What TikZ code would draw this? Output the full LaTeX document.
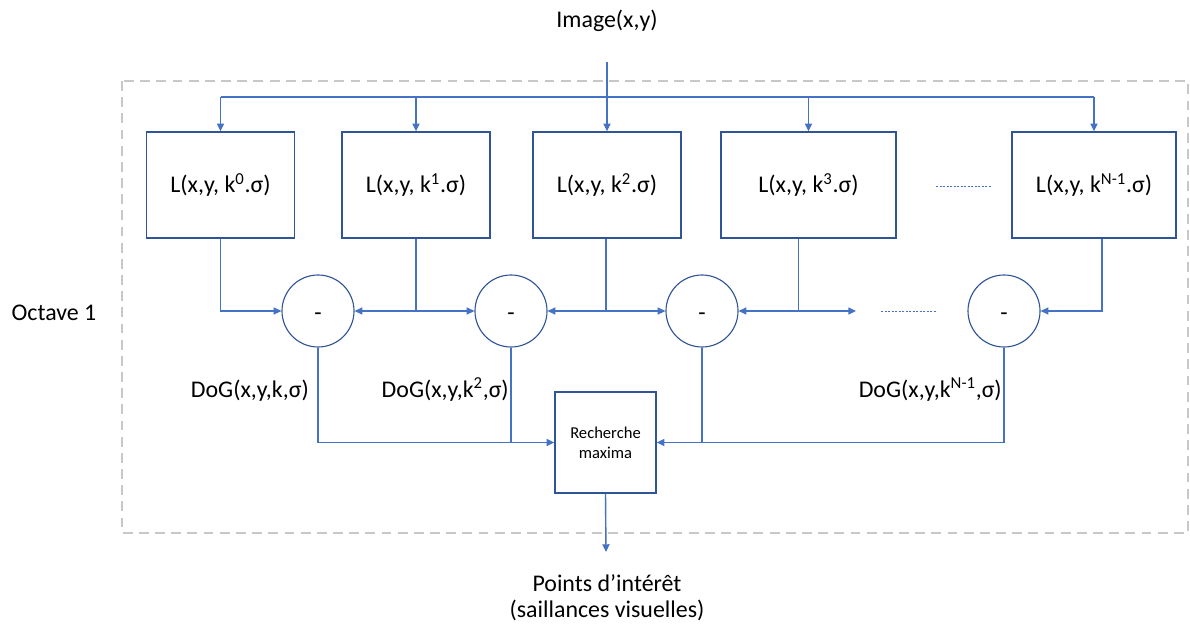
\documentclass[tikz,border=0pt]{standalone}
\usepackage{fontspec}
\setmainfont{Carlito}
\usetikzlibrary{arrows.meta,positioning,calc}
\definecolor{Wire}{HTML}{4472C4}
\definecolor{Edge}{HTML}{2F5597}
\definecolor{Frame}{HTML}{C8C8C8}
\definecolor{Ink}{HTML}{000000}
\tikzset{
  gaussbox/.style={draw=Edge,line width=0.9pt,minimum width=3.7cm,minimum height=2.65cm,align=center,font=\fontsize{17}{20}\selectfont,text=Ink,inner sep=0pt},
  diffnode/.style={circle,draw=Edge,line width=0.8pt,minimum size=1.8cm,font=\fontsize{17}{20}\selectfont,text=Ink,inner sep=0pt,text height=0.5em,text depth=0pt},
  maxbox/.style={draw=Edge,line width=0.9pt,minimum size=2.525cm,align=center,font=\fontsize{11.8}{14}\selectfont,text=Ink,inner sep=0pt},
  txt/.style={font=\fontsize{17}{18}\selectfont,text=Ink,inner sep=0pt,align=center},
  line/.style={-{Triangle[length=5.5pt,width=5pt]},draw=Wire,line width=1pt},
  wire/.style={draw=Wire,line width=1pt},
  dots/.style={draw=Wire,line width=0.5pt,dash pattern=on 1.5pt off 1pt},
  frame/.style={draw=Frame,line width=1.4pt,dash pattern=on 7pt off 4.5pt}
}
\newcommand{\minussign}{\raisebox{-0.25em}{-}}

\begin{document}
\begin{tikzpicture}[x=0.025cm,y=-0.025cm]
  \useasboundingbox (0,0) rectangle (1190,630);
  \draw[frame] (122,81) rectangle (1188,533);

  \node[txt,anchor=base] (img) at (607,28) {Image(x,y)};
  \node[txt,anchor=base] (oct) at (54,320) {Octave 1};

  \node[gaussbox] (L0) at (220.5,185) {L(x,y, k\textsuperscript{0}.σ)};
  \node[gaussbox] (L1) at (416,185) {L(x,y, k\textsuperscript{1}.σ)};
  \node[gaussbox] (L2) at (607,185) {L(x,y, k\textsuperscript{2}.σ)};
  \node[gaussbox,minimum width=4.375cm] (L3) at (808.5,185) {L(x,y, k\textsuperscript{3}.σ)};
  \node[gaussbox,minimum width=4.1cm] (L4) at (1094,185) {L(x,y, k\textsuperscript{N-1}.σ)};

  \node[diffnode] (D0) at (318,311) {\minussign};
  \node[diffnode] (D1) at (511,311) {\minussign};
  \node[diffnode] (D2) at (702,311) {\minussign};
  \node[diffnode] (D3) at (1004,311) {\minussign};

  \node[maxbox] (R) at (605.5,442.5) {Recherche\\maxima};

  \node[txt,anchor=base east] (dog0) at (309,397) {DoG(x,y,k,σ)};
  \node[txt,anchor=base east] (dog1) at (509,397) {DoG(x,y,k\textsuperscript{2},σ)};
  \node[txt,anchor=base east] (dog3) at (1002,397) {DoG(x,y,k\textsuperscript{N-1},σ)};

  \node[txt,anchor=base] (pts) at (607,617) {Points d’intérêt\\(saillances visuelles)};

  \coordinate (in) at (607,62);
  \coordinate (bus) at (607,97);
  \coordinate (open) at (856,311);
  \coordinate (out) at (606,552);

  \draw[line] (in) -- (L2.north);
  \draw[wire] (L0.north |- bus) -- (L4.north |- bus);
  \draw[line] (L0.north |- bus) -- (L0.north);
  \draw[line] (L1.north |- bus) -- (L1.north);
  \draw[line] (L3.north |- bus) -- (L3.north);
  \draw[line] (L4.north |- bus) -- (L4.north);

  \draw[line] (L0.south) |- (D0.west);
  \draw[line] (L1.south) |- (D0.east);
  \draw[line] (L1.south) |- (D1.west);
  \draw[line] ([xshift=-0.025cm]L2.south) |- (D1.east);
  \draw[line] ([xshift=-0.025cm]L2.south) |- (D2.west);
  \draw[line] ([xshift=-0.25cm]L3.south) |- (D2.east);
  \draw[line] ([xshift=-0.25cm]L3.south) |- (open);
  \draw[line] ([xshift=0.2cm]L4.south) |- (D3.east);

  \draw[dots] (881,311) -- (937,311);
  \draw[dots] (936,186) -- (992,186);

  \draw[line] (D0.south) |- (R.west);
  \draw[wire] (D1.south) -- (D1.south |- R.west);
  \draw[line] (D3.south) |- (R.east);
  \draw[wire] (D2.south) -- (D2.south |- R.east);
  \draw[line] (R.south) -- (out);
\end{tikzpicture}
\end{document}
